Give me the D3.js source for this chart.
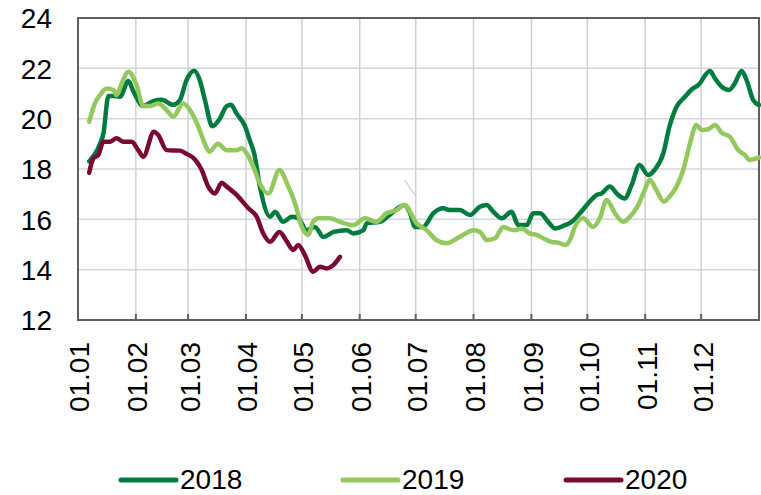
<!DOCTYPE html>
<html>
<head>
<meta charset="utf-8">
<script src="https://cdn.jsdelivr.net/npm/d3@7"></script>
<style>
  body { margin: 0; background: #fff; }
  text { font-family: "Liberation Sans", Arial, sans-serif; fill: #000; }
</style>
</head>
<body>
<div id="chart"></div>
<script>
// values: day of year (0 = 1 Jan) and level

const years = ["2018", "2019", "2020"];
const colors = ["#007c3e", "#92c85e", "#7a0a35"];

const days2018 = [6, 11.8, 13.6, 16.3, 19, 22.5, 27, 29.6, 35, 40.3, 44.8, 51, 54.7, 58, 62.3, 65.4, 68, 72, 76, 79.7, 82, 85, 89.5, 92, 94.5, 97.5, 103, 105.6, 110, 114.5, 118, 122.5, 127, 131.5, 137, 144, 147.5, 153, 154.7, 161.8, 167, 172.5, 175, 178, 180.6, 185, 190.4, 195.8, 199, 204.7, 210, 215.4, 219, 222.6, 227, 232.4, 236, 240.5, 244, 247.6, 252, 255.6, 261, 264.6, 269, 273.5, 278, 280.6, 285, 289.5, 293, 296.7, 301, 305.6, 309, 313.7, 317, 320.8, 325.3, 328.9, 332.4, 338.7, 341.4, 345, 349, 352, 355.7, 358.3, 361.9, 365];
const vals2018 = [18.3, 19.0, 19.4, 20.9, 20.9, 20.87, 21.5, 21.1, 20.5, 20.7, 20.75, 20.55, 20.75, 21.5, 21.9, 21.5, 20.75, 19.7, 20.0, 20.5, 20.55, 20.2, 19.7, 19.15, 18.6, 17.3, 16.1, 16.3, 15.9, 16.1, 16.05, 15.57, 15.7, 15.3, 15.5, 15.57, 15.44, 15.57, 15.84, 15.9, 16.17, 16.5, 16.57, 16.24, 15.7, 15.7, 16.24, 16.44, 16.37, 16.37, 16.17, 16.5, 16.57, 16.3, 16.04, 16.3, 15.77, 15.77, 16.24, 16.24, 15.9, 15.64, 15.77, 15.9, 16.24, 16.64, 16.97, 17.03, 17.3, 16.97, 16.83, 17.36, 18.16, 17.76, 17.96, 18.62, 19.68, 20.47, 20.87, 21.16, 21.33, 21.89, 21.6, 21.27, 21.14, 21.4, 21.89, 21.54, 20.74, 20.54];

const days2019 = [6, 9, 11.8, 15.4, 19, 20.7, 23.4, 27, 31.4, 35, 38.6, 43, 47.5, 51, 56.4, 60, 64.5, 68, 70.4, 75, 79.7, 85, 87.7, 90.4, 94, 97, 102, 108, 112, 116.3, 120, 123.4, 126, 128.8, 135, 140.4, 147.5, 153.8, 160, 165.4, 170.8, 175, 181.5, 186.8, 192, 197.6, 204.7, 212, 215.5, 219, 223.5, 228, 231.5, 234, 237.8, 242, 245.8, 249.4, 253.9, 257.4, 261, 263.7, 266.3, 270.8, 276, 279.7, 283.3, 287.8, 292.2, 295.8, 300.3, 303, 306.5, 310, 314, 317, 320.8, 324.4, 328, 331.5, 334.2, 337.8, 341.4, 345, 349.4, 353.9, 357.4, 360, 365];
const vals2019 = [19.88, 20.6, 20.94, 21.2, 21.14, 20.94, 21.4, 21.86, 21.33, 20.5, 20.5, 20.6, 20.34, 20.08, 20.6, 20.34, 19.68, 19.0, 18.69, 19.0, 18.75, 18.75, 18.82, 18.62, 18.09, 17.5, 17.03, 17.96, 17.43, 16.64, 15.7, 15.38, 15.9, 16.04, 16.04, 15.9, 15.77, 16.04, 15.9, 16.24, 16.37, 16.57, 15.84, 15.57, 15.18, 15.05, 15.31, 15.57, 15.5, 15.18, 15.25, 15.7, 15.6, 15.57, 15.64, 15.44, 15.38, 15.25, 15.1, 15.07, 14.98, 15.18, 15.7, 16.04, 15.7, 16.04, 16.77, 16.24, 15.9, 16.1, 16.57, 17.03, 17.56, 17.16, 16.7, 16.9, 17.3, 17.96, 19.02, 19.75, 19.55, 19.58, 19.75, 19.44, 19.28, 18.75, 18.56, 18.36, 18.46];

const days2020 = [6, 8.2, 10.9, 13.6, 17, 20.7, 24.3, 28.8, 32.3, 35, 40.7, 43, 47.5, 54.7, 58.2, 62.7, 66.3, 69.8, 73.4, 77, 79.7, 85, 91.3, 95.8, 99.3, 103, 108, 112, 115.4, 118, 121.6, 126, 129.7, 133.3, 136.8, 140.4];
const vals2020 = [17.85, 18.42, 18.56, 19.08, 19.08, 19.22, 19.08, 19.08, 18.75, 18.49, 19.48, 19.35, 18.75, 18.73, 18.6, 18.38, 17.96, 17.3, 17.03, 17.45, 17.3, 16.97, 16.44, 16.1, 15.44, 15.11, 15.5, 15.11, 14.78, 14.98, 14.58, 13.92, 14.12, 14.05, 14.18, 14.51];

const monthLabels = ["01.01", "01.02", "01.03", "01.04", "01.05", "01.06", "01.07", "01.08", "01.09", "01.10", "01.11", "01.12"];
const monthStarts = [0, 31, 59, 90, 120, 151, 181, 212, 243, 273, 304, 334];
const yTicks = [12, 14, 16, 18, 20, 22, 24];

// faint stray stroke visible in the source picture
const strayDays = [175.2, 181.5];
const strayVals = [17.56, 16.85];

const width = 761;
const height = 495;
const plotLeft = 78, plotRight = 759, plotTop = 18, plotBottom = 320;

const series = [
  { name: years[0], days: days2018, vals: vals2018, color: colors[0] },
  { name: years[1], days: days2019, vals: vals2019, color: colors[1] },
  { name: years[2], days: days2020, vals: vals2020, color: colors[2] }
];

const x = d3.scaleLinear().domain([0, 365]).range([plotLeft, plotRight]);
const y = d3.scaleLinear().domain([12, 24]).range([plotBottom, plotTop]);

const svg = d3.select("#chart").append("svg")
    .attr("width", width)
    .attr("height", height);

// grid
svg.append("g")
    .selectAll("line")
    .data(yTicks.slice(1, -1))
    .join("line")
    .attr("x1", plotLeft).attr("x2", plotRight)
    .attr("y1", d => y(d)).attr("y2", d => y(d))
    .attr("stroke", "#d3d6db")
    .attr("stroke-width", 1.5);

svg.append("g")
    .selectAll("line")
    .data(monthStarts.slice(1))
    .join("line")
    .attr("x1", d => x(d)).attr("x2", d => x(d))
    .attr("y1", plotTop).attr("y2", plotBottom)
    .attr("stroke", "#cdd1d7")
    .attr("stroke-width", 1.5);

// y axis labels
const yAxis = d3.axisLeft(y).tickValues(yTicks).tickSize(0).tickPadding(26);
svg.append("g")
    .attr("transform", `translate(${plotLeft},0)`)
    .call(yAxis)
    .call(g => g.select(".domain").remove())
    .call(g => g.selectAll("text")
        .style("font-size", "28px")
        .attr("font-family", null)
        .attr("fill", "#000")
        .attr("dy", "0.35em"));

// bottom ticks
svg.append("g")
    .selectAll("line")
    .data(monthStarts.slice(1))
    .join("line")
    .attr("x1", d => x(d)).attr("x2", d => x(d))
    .attr("y1", plotBottom).attr("y2", plotBottom - 6)
    .attr("stroke", "#5f5f5f")
    .attr("stroke-width", 2);

// x labels
svg.append("g")
    .selectAll("text")
    .data(monthStarts)
    .join("text")
    .attr("transform", d => `translate(${x(d)},342) rotate(-90)`)
    .attr("text-anchor", "end")
    .attr("dy", "0.41em")
    .style("font-size", "28px")
    .text((d, i) => monthLabels[i]);

// frame
svg.append("rect")
    .attr("x", plotLeft).attr("y", plotTop)
    .attr("width", plotRight - plotLeft).attr("height", plotBottom - plotTop)
    .attr("fill", "none")
    .attr("stroke", "#5f5f5f")
    .attr("stroke-width", 2);

// stray stroke
svg.append("line")
    .attr("x1", x(strayDays[0])).attr("y1", y(strayVals[0]))
    .attr("x2", x(strayDays[1])).attr("y2", y(strayVals[1]))
    .attr("stroke", "#d4d4d4")
    .attr("stroke-width", 1.5);

// lines
const line = d3.line()
    .x(d => x(d[0]))
    .y(d => y(d[1]))
    .curve(d3.curveMonotoneX);

svg.append("g")
    .selectAll("path")
    .data(series)
    .join("path")
    .attr("d", s => line(s.days.map((d, i) => [d, s.vals[i]])))
    .attr("fill", "none")
    .attr("stroke", s => s.color)
    .attr("stroke-width", 4.5)
    .attr("stroke-linejoin", "round")
    .attr("stroke-linecap", "round");

// legend
const legendX = [121, 343, 566];
const leg = svg.append("g")
    .selectAll("g")
    .data(series)
    .join("g")
    .attr("transform", (d, i) => `translate(${legendX[i]},0)`);

leg.append("line")
    .attr("x1", 0).attr("x2", 55)
    .attr("y1", 480).attr("y2", 480)
    .attr("stroke", d => d.color)
    .attr("stroke-width", 5)
    .attr("stroke-linecap", "round");

leg.append("text")
    .attr("x", 59)
    .attr("y", 489)
    .style("font-size", "28px")
    .text(d => d.name);
</script>
</body>
</html>
